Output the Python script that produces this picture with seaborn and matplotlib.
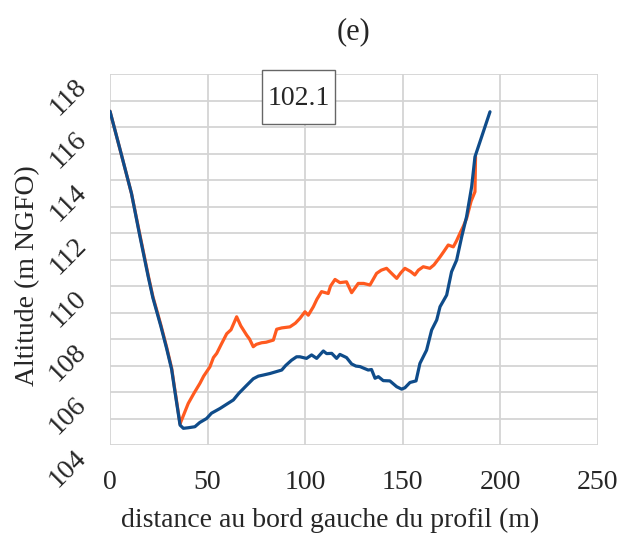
import numpy as np
import pandas as pd
import matplotlib
matplotlib.use('Agg')
import matplotlib.pyplot as plt
from matplotlib.ticker import MultipleLocator
from matplotlib.patches import Rectangle
import seaborn as sns

# profil orange
x_orange = [0, 5, 11, 15, 19.6, 22, 26, 29, 31.6, 33, 35.9, 37, 40.1, 43, 46.1, 48,
            51.2, 53, 54.7, 57, 59.8, 62, 64.9, 67, 70, 71.5, 73.4, 75, 77.7, 80,
            83.7, 85.4, 88, 92.2, 95, 97.3, 99.9, 101.6, 104.2, 106, 108.4, 111.8,
            113, 115.3, 117.8, 121.2, 123.8, 127.2, 130, 133.2, 136.6, 139, 141.7,
            144, 146.9, 149, 151.1, 154, 156.2, 158, 160.5, 163.9, 166, 169.1, 171,
            173.3, 175.9, 177.5, 179.3, 181, 182.7, 185, 187, 187.3]
z_orange = [116.6, 115.2, 113.5, 112.05, 110.4, 109.6, 108.55, 107.7, 106.9, 106.2,
            104.8, 105.0, 105.57, 105.95, 106.33, 106.6, 106.95, 107.3, 107.46, 107.8,
            108.2, 108.35, 108.84, 108.5, 108.15, 108.0, 107.71, 107.8, 107.86, 107.88,
            107.96, 108.37, 108.42, 108.46, 108.6, 108.78, 109.03, 108.9, 109.22, 109.5,
            109.79, 109.72, 110.0, 110.25, 110.13, 110.16, 109.75, 110.1, 110.1, 110.04,
            110.48, 110.6, 110.67, 110.5, 110.29, 110.5, 110.67, 110.55, 110.42, 110.6,
            110.73, 110.67, 110.8, 111.1, 111.3, 111.55, 111.48, 111.7, 111.99, 112.25,
            112.55, 113.2, 113.56, 114.88]

# profil bleu
x_bleu = [0, 5, 11, 15, 19.6, 22, 26, 29, 31.6, 33, 35.9, 37.6, 40, 43.5, 46, 49.5,
          52, 56.4, 60, 63.2, 66, 70, 73.4, 76, 78.5, 82, 88, 90, 93, 95.6, 97.3,
          100.7, 103.3, 105.9, 109.3, 111, 113.6, 116.1, 117.8, 121.2, 123.8, 126,
          128.1, 130, 132.3, 134, 135.8, 137.5, 140, 143.4, 146.9, 149.4, 151.1,
          153.7, 156.8, 158.8, 162.2, 164.8, 167.4, 169.1, 172.5, 175, 177.6, 180.2,
          182.7, 185.3, 187, 194.7]
z_bleu = [116.6, 115.2, 113.5, 112.0, 110.35, 109.55, 108.5, 107.65, 106.85, 106.15,
          104.75, 104.63, 104.65, 104.69, 104.85, 105.0, 105.2, 105.38, 105.55, 105.7,
          105.95, 106.25, 106.5, 106.6, 106.64, 106.7, 106.83, 107.0, 107.2, 107.33,
          107.33, 107.27, 107.4, 107.27, 107.55, 107.45, 107.46, 107.27, 107.42, 107.3,
          107.06, 106.98, 106.96, 106.9, 106.83, 106.85, 106.52, 106.58, 106.43, 106.42,
          106.2, 106.11, 106.16, 106.36, 106.42, 107.08, 107.58, 108.34, 108.72, 109.22,
          109.66, 110.54, 110.98, 111.86, 112.62, 113.75, 114.88, 116.58]

label_box = "102.1"

df = pd.concat([
    pd.DataFrame({'distance': x_orange, 'altitude': z_orange, 'profil': 'orange'}),
    pd.DataFrame({'distance': x_bleu, 'altitude': z_bleu, 'profil': 'bleu'}),
])

sns.set_style("white")
plt.rcParams['font.family'] = ['Liberation Serif', 'DejaVu Serif']

fig = plt.figure(figsize=(6.2, 5.39), dpi=100)
ax = fig.add_axes([0.1774, 0.1744, 0.787, 0.688])

sns.lineplot(data=df, x='distance', y='altitude', hue='profil', sort=False,
             palette={'orange': '#ff5a1f', 'bleu': '#0f4c8a'}, linewidth=2.3,
             legend=False, ax=ax)

ax.set_xlim(0, 250)
ax.set_ylim(104, 118)
ax.xaxis.set_major_locator(MultipleLocator(50))
ax.yaxis.set_major_locator(MultipleLocator(2))
ax.yaxis.set_minor_locator(MultipleLocator(1))
ax.grid(True, which='both', axis='y', color='#d4d4d4', linewidth=1.3)
ax.grid(True, which='major', axis='x', color='#d4d4d4', linewidth=1.3)
ax.set_axisbelow(True)
for s in ax.spines.values():
    s.set_visible(False)
ax.tick_params(axis='x', length=10, color='#d4d4d4', width=1.3, labelsize=20, pad=8)
ax.tick_params(axis='y', which='major', length=10, color='#d4d4d4', width=1.3, labelsize=20, pad=16)
ax.tick_params(axis='y', which='minor', length=10, color='#d4d4d4', width=1.3)
for lab in ax.get_yticklabels():
    lab.set_rotation(45)
    lab.set_rotation_mode('anchor')
    lab.set_va('top')
    lab.set_ha('right')

ax.set_xlabel('distance au bord gauche du profil (m)', fontsize=20)
ax.set_ylabel('Altitude (m NGFO)', fontsize=20)
ax.xaxis.set_label_coords(0.451, -0.17)
ax.yaxis.set_label_coords(-0.143, 0.457)
ax.set_title('(e)', fontsize=22, pad=25)

# cadre de l'étiquette
ax.add_patch(Rectangle((0.3115, 0.865), 0.1496, 0.146, transform=ax.transAxes,
                       facecolor='white', edgecolor='#666666', linewidth=1,
                       clip_on=False, zorder=5))
ax.text(0.386, 0.935, label_box, transform=ax.transAxes, fontsize=20,
        ha='center', va='center', zorder=6)

fig.savefig('out.png', dpi=100)
